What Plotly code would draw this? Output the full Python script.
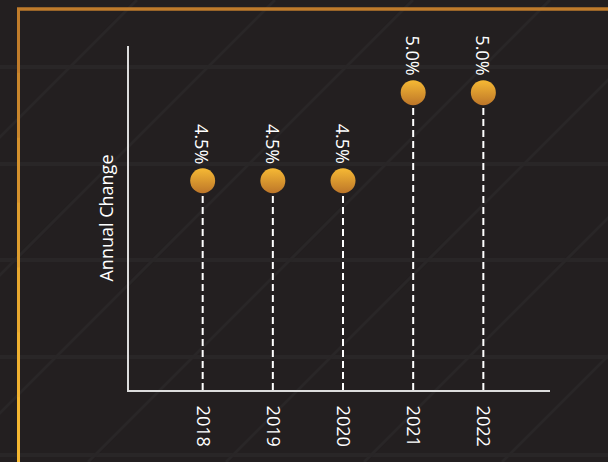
import plotly.graph_objects as go

# ---- data ----
years = ["2018", "2019", "2020", "2021", "2022"]
annual_change = [4.5, 4.5, 4.5, 5.0, 5.0]
value_labels = ["4.5%", "4.5%", "4.5%", "5.0%", "5.0%"]
y_title = "Annual Change"

W, H = 608, 462
L, R, T, B = 129, 58, 46, 72
PW, PH = W - L - R, H - T - B
Y_RANGE = [3.3125, 5.265]
X_RANGE = [-1.05, 4.95]

BG = "#231f20"
FONT = "Open Sans"

def px(x):
    return (x - L) / PW

def py(y):
    return (H - B - y) / PH

idx = list(range(len(years)))

fig = go.Figure()

# dashed stems
sx, sy = [], []
for i, v in zip(idx, annual_change):
    sx += [i, i, None]
    sy += [Y_RANGE[0], v, None]
fig.add_trace(go.Scatter(
    x=sx, y=sy, mode="lines",
    line=dict(color="#ffffff", width=2, dash="7px,4px"),
    hoverinfo="skip", showlegend=False, cliponaxis=False,
))

# gold markers
fig.add_trace(go.Scatter(
    x=idx, y=annual_change, mode="markers",
    marker=dict(size=25, color="#f6b934",
                gradient=dict(type="vertical", color="#bd7629"),
                line=dict(width=0)),
    showlegend=False, cliponaxis=False,
))

# rotated value labels
for i, v, t in zip(idx, annual_change, value_labels):
    fig.add_annotation(
        x=i, y=v, text=t, textangle=90, showarrow=False,
        xanchor="center", yanchor="bottom", yshift=15,
        font=dict(family=FONT, size=18, color="#ffffff"),
    )

shapes = []
# horizontal faint bands
for yb in [67, 164, 260, 357, 455]:
    shapes.append(dict(type="line", xref="paper", yref="paper",
                       x0=px(0), x1=px(W), y0=py(yb), y1=py(yb),
                       line=dict(color="#292627", width=4), layer="below"))
# diagonal faint lines (x + y = c in pixels)
for c in [137, 275, 413, 550, 688, 826, 964]:
    x0, y0 = c, 0
    x1, y1 = c - H, H
    shapes.append(dict(type="line", xref="paper", yref="paper",
                       x0=px(x0), y0=py(y0), x1=px(x1), y1=py(y1),
                       line=dict(color="#292627", width=3), layer="below"))
# gold frame
shapes.append(dict(type="line", xref="paper", yref="paper",
                   x0=px(17), x1=px(W + 2), y0=py(9), y1=py(9),
                   line=dict(color="#bf7b2b", width=3.5), layer="above"))
seg_cols = ["#c07c2b", "#c9862c", "#d4912d", "#de9d2e", "#e8a82f", "#f0b130", "#f5b731"]
n = len(seg_cols)
for k, col in enumerate(seg_cols):
    ya = 8 + (H - 8) * k / n
    yb2 = 8 + (H - 8) * (k + 1) / n + 1
    shapes.append(dict(type="line", xref="paper", yref="paper",
                       x0=px(18.5), x1=px(18.5), y0=py(ya), y1=py(yb2),
                       line=dict(color=col, width=3), layer="above"))

fig.update_layout(
    width=W, height=H,
    margin=dict(l=L, r=R, t=T, b=B),
    paper_bgcolor=BG, plot_bgcolor="rgba(0,0,0,0)",
    shapes=shapes,
    showlegend=False,
    xaxis=dict(
        range=X_RANGE, tickmode="array", tickvals=idx, ticktext=years,
        tickangle=90, ticks="", showgrid=False, zeroline=False,
        showline=True, linecolor="#dcdcdc", linewidth=2,
        tickfont=dict(family=FONT, size=18, color="#ffffff"),
        ticklabelstandoff=10, fixedrange=True,
    ),
    yaxis=dict(
        range=Y_RANGE, showticklabels=False, ticks="", showgrid=False,
        zeroline=False, showline=True, linecolor="#dcdcdc", linewidth=2,
        title=dict(text=y_title, standoff=9,
                   font=dict(family=FONT, size=18, color="#ffffff")),
        fixedrange=True,
    ),
)

fig.write_html(
    "out.html",
    config={"displayModeBar": False},
    post_script="document.body.style.margin='0';"
                "document.body.style.background='#231f20';"
                "document.documentElement.style.background='#231f20';",
)
